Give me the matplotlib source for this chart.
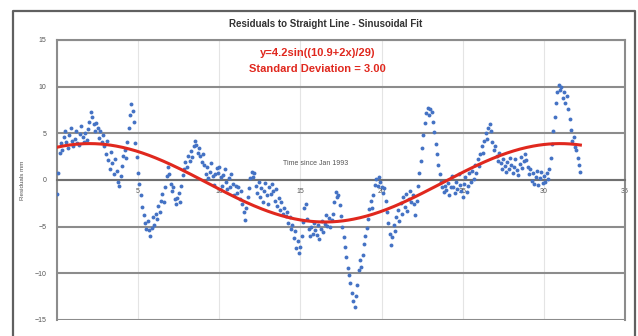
import numpy as np
import matplotlib.pyplot as plt
from matplotlib.lines import Line2D

# monthly residuals (mm), one row per year starting Jan 1993
residuals = [
    -1.5, 0.8, 2.9, 4.0, 3.2, 4.6, 5.3, 4.1, 3.4, 4.8, 5.6, 4.2,
    3.6, 4.4, 5.2, 4.0, 3.7, 4.9, 5.8, 4.6, 4.1, 5.0, 4.3, 5.5,
    6.2, 7.3, 6.8, 6.0, 5.2, 6.1, 5.6, 4.5, 5.3, 4.1, 4.8, 3.6,
    2.8, 4.2, 2.1, 1.2, 3.0, 1.8, 0.6, 2.2, 1.0, -0.2, -0.6, 0.4,
    1.5, 2.6, 3.2, 2.4, 4.1, 5.6, 7.0, 8.1, 7.4, 6.2, 4.0, 2.5,
    0.8, -0.4, -1.6, -2.9, -3.8, -4.6, -5.2, -4.4, -5.4, -6.0, -5.1, -4.0,
    -4.8, -3.6, -4.2, -2.8, -3.4, -2.2, -1.5, -2.4, -0.8, 0.4, 1.4, 0.6,
    -0.4, -1.2, -0.8, -2.0, -2.6, -1.9, -1.4, -2.4, -0.6, 0.5, 1.2, 1.9,
    1.4, 2.6, 2.0, 3.1, 2.5, 3.6, 4.2, 3.8, 2.9, 3.4, 2.6, 1.9,
    2.8, 1.6, 0.6, 1.4, 0.2, 0.9, 1.8, 0.4, -0.5, 0.6, 1.3, 0.8,
    1.4, 0.3, -0.6, 0.5, 1.2, -0.2, -1.0, 0.2, -0.8, 0.6, -0.4, -1.6,
    -0.6, -1.4, -0.8, -2.0, -1.2, -2.6, -3.4, -4.3, -3.0, -1.8, -0.9, 0.2,
    0.9, 0.3, 0.8, -0.6, -1.4, -0.2, -1.8, -0.9, -2.4, -1.2, -0.3, -1.6,
    -2.6, -0.8, -1.5, -0.4, -1.2, -2.2, -1.0, -2.8, -1.9, -3.2, -2.4, -3.6,
    -3.0, -3.9, -3.4, -4.6, -4.0, -5.3, -4.8, -6.2, -5.5, -7.3, -6.5, -7.8,
    -7.2, -6.0, -4.5, -3.0, -2.6, -4.2, -5.3, -6.0, -5.0, -5.8, -4.6, -5.4,
    -5.9, -4.8, -6.3, -5.2, -4.4, -5.6, -4.7, -3.8, -4.9, -4.1, -5.0, -4.3,
    -3.6, -2.4, -1.3, -1.8, -1.6, -2.7, -3.9, -5.0, -6.1, -7.2, -8.3, -9.4,
    -10.2, -11.0, -12.1, -13.0, -13.6, -12.4, -11.3, -9.6, -8.6, -9.3, -8.0, -6.9,
    -6.0, -5.1, -4.2, -3.1, -2.2, -3.0, -1.6, -0.5, 0.1, -0.6, 0.3, -0.2,
    -0.8, -1.4, -0.9, -2.3, -3.4, -4.6, -5.8, -7.0, -6.1, -4.8, -5.5, -4.0,
    -3.2, -4.4, -2.5, -3.6, -1.8, -2.9, -1.5, -3.3, -2.0, -1.2, -2.4, -1.6,
    -2.6, -3.8, -2.2, -0.6, 0.8, 2.0, 3.4, 4.8, 6.1, 7.2, 7.7, 7.0,
    7.6, 7.3, 6.2, 5.1, 3.9, 2.8, 1.6, 0.6, -0.2, -0.8, -1.3, -0.6,
    -1.1, -0.3, -1.6, -0.8, 0.4, -0.7, -1.4, -0.2, -1.0, 0.6, -0.5, -1.2,
    -1.8, -0.4, 0.3, -1.3, -0.6, 0.8, -0.2, 1.0, 0.1, 1.6, 0.7, 2.2,
    1.5, 2.8, 3.6, 2.9, 4.2, 5.0, 4.4, 5.6, 6.0, 5.2, 4.1, 3.2,
    3.6, 2.6, 2.0, 2.9, 1.8, 1.2, 2.3, 1.5, 0.9, 1.9, 1.2, 2.4,
    1.6, 0.8, 1.4, 2.2, 1.1, 0.5, 1.7, 2.5, 1.3, 2.0, 2.8, 2.1,
    1.4, 0.6, 1.2, -0.1, 0.7, -0.4, 0.3, 1.0, -0.5, 0.2, 0.9, -0.3,
    0.4, -0.2, 0.8, 0.1, 1.2, 2.4, 3.9, 5.3, 6.8, 8.2, 9.4, 10.2,
    9.6, 10.0, 8.8, 9.4, 8.2, 9.0, 7.6, 6.5, 5.4, 4.2, 4.6, 3.5,
    3.2, 2.4, 1.6, 0.9,
]
years = np.arange(len(residuals)) / 12.0

# sinusoidal fit parameters
amplitude = 4.2
period = 29.0
phase = 5.25
offset = -0.3

x_ticks = [0, 5, 10, 15, 20, 25, 30, 35]
y_ticks = [-15, -10, -5, 0, 5, 10, 15]

plt.rcParams['font.family'] = ['Liberation Sans', 'DejaVu Sans']

fig = plt.figure(figsize=(6.38, 3.36), dpi=100)
ax = fig.add_axes([57 / 638, 16 / 336, 568 / 638, 280 / 336])

fit_x = np.linspace(0, years[-1], 400)
fit_y = amplitude * np.sin(2 * np.pi * (fit_x + phase) / period) + offset

ax.plot(years, residuals, linestyle='none', marker='o', markersize=2.8,
        color='#4472c4', markeredgewidth=0, zorder=3)
ax.plot(fit_x, fit_y, color='#e0281e', linewidth=2.2, zorder=4)

ax.set_xlim(0, 35)
ax.set_ylim(-15, 15)
ax.set_xticks(x_ticks)
ax.set_yticks(y_ticks)
ax.set_xticklabels(['' if v == 0 else str(v) for v in x_ticks])

ax.set_axisbelow(True)
ax.grid(axis='y', color='#8c8c8c', linewidth=1.5)
ax.grid(axis='x', color='#e4e4e4', linewidth=0.8)
ax.spines['bottom'].set_position(('data', 0))
ax.spines['bottom'].set_color('#707070')
ax.spines['bottom'].set_linewidth(1.5)
for side in ['left', 'right', 'top']:
    ax.spines[side].set_color('#8c8c8c')
    ax.spines[side].set_linewidth(1.5)
ax.tick_params(length=0, labelsize=5, colors='#555555')
ax.tick_params(axis='y', pad=7.5)
ax.tick_params(axis='x', pad=6)

ax.set_ylabel('Residuals mm', fontsize=4.5, color='#555555', labelpad=7)
ax.text(0.455, 0.56, 'Time since Jan 1993', transform=ax.transAxes,
        ha='center', va='center', fontsize=5, color='#555555')

fig.text(0.51, 1 - 24 / 336, 'Residuals to Straight Line - Sinusoidal Fit',
         ha='center', va='center', fontsize=7, fontweight='bold', color='#333333')
ax.text(0.458, 0.954, 'y=4.2sin((10.9+2x)/29)', transform=ax.transAxes,
        ha='center', va='center', fontsize=8, fontweight='bold', color='#e0281e')
ax.text(0.458, 0.896, 'Standard Deviation = 3.00', transform=ax.transAxes,
        ha='center', va='center', fontsize=8, fontweight='bold', color='#e0281e')

# chart area frame (runs off the bottom edge)
fx = [13 / 638, 13 / 638, 635 / 638, 635 / 638]
fy = [-0.05, 1 - 11 / 336, 1 - 11 / 336, -0.05]
fig.add_artist(Line2D(fx, fy, color='#606060', linewidth=1.6, transform=fig.transFigure))

fig.savefig('out.png', dpi=100)
